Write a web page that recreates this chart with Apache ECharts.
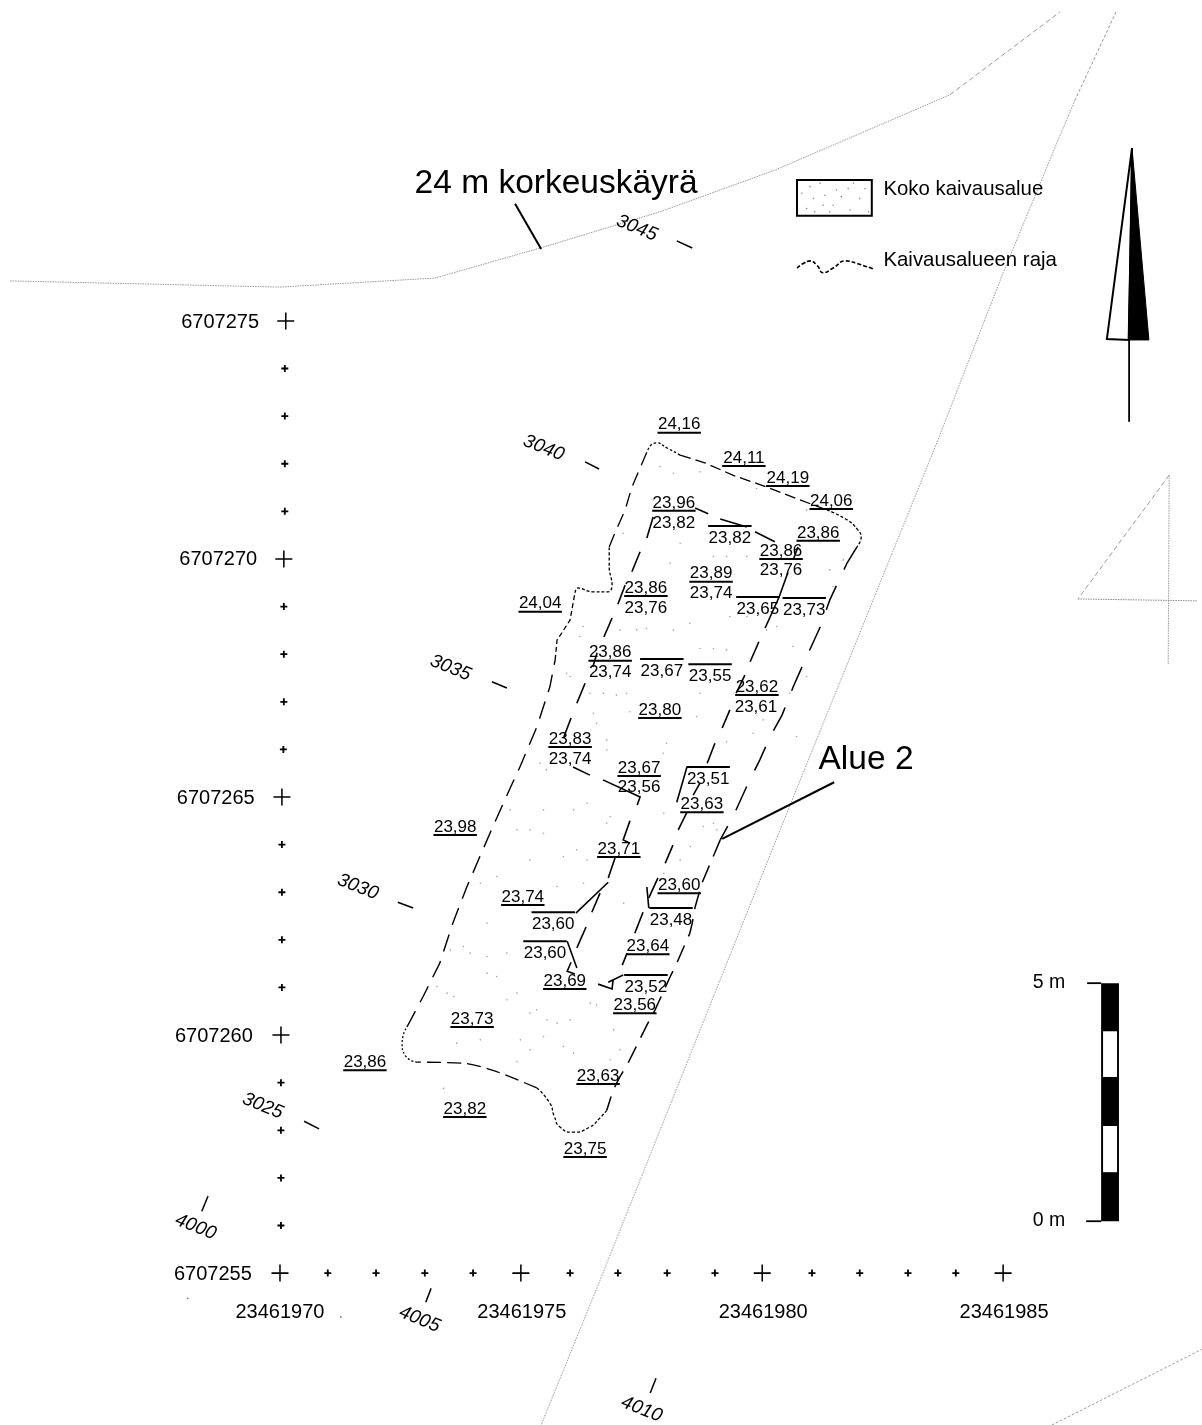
<!DOCTYPE html>
<html><head><meta charset="utf-8">
<style>html,body{margin:0;padding:0;background:#fff}#c{width:1202px;height:1425px}</style>
<script src="https://cdn.jsdelivr.net/npm/echarts@6/dist/echarts.min.js"></script>
</head><body><div id="c"></div>
<script>
// All map positions: metres east of 23461970 / metres north of 6707255.
const northTicks = [[-1.24,19.99,'6707275'],[-1.28,15,'6707270'],[-1.33,10,'6707265'],[-1.37,5,'6707260'],[-1.39,0,'6707255']];
const eastTicks = [[0,-0.80,'23461970'],[5.01,-0.80,'23461975'],[10.01,-0.80,'23461980'],[15,-0.80,'23461985']];
const majorCrosses = [[0.12,20],[0.08,15],[0.04,10],[0.02,5],[0,0],[4.99,0],[9.99,0],[14.98,0]];
const minorCrosses = [[0.10,19],[0.10,18],[0.10,17],[0.10,16],[0.08,14],[0.08,13],[0.08,12],[0.07,11],[0.04,9],[0.04,8],[0.04,7],[0.04,6],[0.02,4],[0.02,3],[0.02,2],[0.02,1],
 [0.99,0],[1.99,0],[3.0,0],[4.0,0],[6.01,0],[7.0,0],[8.02,0],[9.01,0],[11.02,0],[12.01,0],[13.01,0],[14.0,0]];
const levels = [[8.27,17.84,24.16,-1],[9.61,17.14,24.11,-1],[10.52,16.72,24.19,-1],[11.42,16.24,24.06,-1],[8.16,16.20,23.96,-1],[8.16,15.78,23.82,0],[9.32,15.46,23.82,1],[11.15,15.57,23.86,-1],[10.38,15.19,23.86,-1],[10.38,14.79,23.76,0],[8.93,14.71,23.89,-1],[8.93,14.29,23.74,0],[7.58,14.41,23.86,-1],[7.58,13.99,23.76,0],[5.39,14.08,24.04,-1],[9.90,13.97,23.65,1],[10.86,13.95,23.73,1],[6.84,13.05,23.86,-1],[6.84,12.63,23.74,0],[7.91,12.67,23.67,1],[8.91,12.56,23.55,1],[9.88,12.33,23.62,-1],[9.86,11.91,23.61,0],[7.87,11.85,23.80,-1],[6.01,11.24,23.83,-1],[6.01,10.82,23.74,0],[7.44,10.63,23.67,-1],[7.44,10.23,23.56,0],[8.87,10.40,23.51,1],[8.74,9.87,23.63,-1],[3.63,9.39,23.98,-1],[7.02,8.93,23.71,-1],[5.03,7.92,23.74,-1],[5.66,7.35,23.60,1],[8.27,8.17,23.60,-1],[8.10,7.44,23.48,1],[7.62,6.89,23.64,-1],[5.49,6.74,23.60,1],[5.90,6.16,23.69,-1],[7.58,6.03,23.52,1],[7.35,5.65,23.56,-1],[3.98,5.36,23.73,-1],[1.76,4.45,23.86,-1],[6.59,4.16,23.63,-1],[3.83,3.47,23.82,-1],[6.32,2.63,23.75,-1]];
const northLines = [[7.40,21.97,'3045'],[5.47,17.35,'3040'],[3.54,12.73,'3035'],[1.62,8.13,'3030'],[-0.35,3.53,'3025']];
const eastLines = [[-1.74,0.99,'4000'],[2.90,-0.95,'4005'],[7.50,-2.84,'4010']];
const gridTicks = [[[8.22,21.68],[8.54,21.53]],[[6.32,17.04],[6.61,16.89]],[[4.39,12.42],[4.70,12.29]],[[2.44,7.79],[2.76,7.67]],[[0.50,3.19],[0.81,3.03]],
 [[-1.49,1.62],[-1.62,1.30]],[[3.13,-0.32],[3.02,-0.61]],[[7.79,-2.21],[7.67,-2.52]]];
const contour24 = [[-5.59,20.84],[0,20.71],[3.21,20.90],[5.39,21.53],[7.87,22.29],[10.26,23.17],[13.88,24.75]];
const contour24Upper = [[13.88,24.75],[16.16,26.49]];
const road = [[16.47,24.64],[16.12,23.80],[14.98,21.01],[13.63,17.50],[10.36,9.31],[6.63,-0.15],[5.41,-3.19]];
const roadUpper = [[17.32,26.49],[16.47,24.64]];
const cornerRight = [[15.99,-3.19],[19.10,-1.60]];
const sideLines = [[18.42,16.76],[16.53,14.16]];
const sideRule = [[16.53,14.16],[19.00,14.12]];
const sideVertical = [[18.42,16.76],[18.40,12.77]];
const boundaryCornerN = [[7.62,17.29],[7.79,17.44],[8.02,17.33],[8.29,17.18]];
const boundaryTop = [[8.29,17.18],[8.80,17.02],[9.38,16.76],[10.09,16.51],[10.77,16.24],[11.33,16.03]];
const boundaryCornerNE = [[11.33,16.03],[11.75,15.82],[11.97,15.61],[12.04,15.46],[11.95,15.25]];
const boundaryEast = [[11.95,15.25],[11.75,14.92],[11.39,14.14],[11.19,13.57],[10.83,12.77],[10.63,12.31],[10.40,11.72],[10.15,11.26],[9.94,10.78],[9.70,10.29],[9.38,9.58],[9.12,9.10]];
const boundaryEastLow = [[9.12,9.10],[8.74,8.19],[8.60,7.69],[8.54,7.35],[8.49,7.14],[8.22,6.51],[8.08,6.22],[7.77,5.53],[7.60,5.21],[7.21,4.41],[7.04,4.12],[6.90,3.84],[6.77,3.42]];
const boundaryBay = [[6.77,3.42],[6.62,3.25],[6.42,3.07],[6.07,2.96],[5.80,3.07],[5.68,3.30],[5.59,3.57],[5.32,3.89]];
const boundarySouth = [[5.32,3.89],[4.41,4.26],[3.79,4.41],[2.84,4.43]];
const boundaryCornerSW = [[2.84,4.43],[2.59,4.58],[2.53,4.83],[2.63,5.17]];
const boundaryWest = [[2.63,5.17],[2.96,5.80],[3.31,6.51],[3.58,7.35],[3.87,8.11],[4.35,9.24],[4.72,10.08],[4.97,10.63],[5.32,11.47],[5.59,12.31],[5.70,12.88]];
const boundaryStep = [[5.70,12.88],[5.74,13.30],[5.84,13.45],[6.01,13.72],[6.11,14.29]];
const boundaryNotch = [[6.11,14.29],[6.17,14.39],[6.48,14.31],[6.80,14.31],[6.88,14.45],[6.82,14.83],[6.82,15.25]];
const boundaryNW = [[6.82,15.25],[6.94,15.55],[7.15,16.03],[7.29,16.51],[7.46,16.91],[7.62,17.29]];
const trench = [
 [[7.73,15.88],[7.60,15.44]],[[7.46,15.15],[7.29,14.73]],[[7.15,14.45],[7.00,14.05]],[[6.88,13.76],[6.71,13.36]],[[6.57,13.03],[6.48,12.73]],[[6.32,12.39],[6.15,11.97]],[[6.03,11.66],[5.88,11.26]],
 [[6.07,10.63],[6.42,10.46]],[[6.69,10.36],[7.46,10.00],[7.40,9.83]],[[7.25,9.50],[7.11,9.10],[7.25,9.03]],[[6.94,8.72],[6.80,8.30]],[[6.13,7.56],[6.80,8.21]],[[6.63,7.98],[6.46,7.58]],[[6.34,7.27],[6.15,6.83]],
 [[5.95,6.97],[6.15,6.41]],[[6.03,6.53],[5.95,6.34],[6.11,6.28]],[[6.59,6.07],[6.88,5.97],[6.90,6.16]],[[6.80,6.11],[7.11,6.26]],[[7.09,6.47],[7.19,6.72]],[[7.52,7.58],[7.35,7.14]],[[7.60,8.11],[7.64,7.67]],
 [[7.64,7.88],[7.83,8.30]],[[7.98,8.61],[8.14,8.99]],[[8.25,9.31],[8.43,9.68]],[[8.22,9.89],[8.43,10.63]],[[8.56,10.04],[8.70,10.29]],[[8.85,10.71],[9.01,11.13]],[[9.16,11.45],[9.32,11.83]],[[9.45,12.18],[9.63,12.56]],
 [[9.74,12.84],[9.92,13.26]],[[10.05,13.55],[10.34,14.20],[10.52,14.71]],[[10.63,14.98],[10.73,15.25]],[[9.84,15.57],[10.25,15.36]],[[9.12,15.84],[9.67,15.67]],[[8.60,16.07],[8.87,15.95]]];
const leaders = [[[4.87,22.46],[5.41,21.51]],[[11.48,10.31],[9.16,9.12]]];
const stipple = [[7.87,16.94],[8.15,16.80],[8.70,16.83],[9.87,16.48],[10.91,16.03],[7.11,15.54],[8.29,15.33],[8.98,15.05],[9.67,15.05],[8.08,14.91],[11.39,14.77],[11.67,14.98],[6.28,13.58],[7.04,13.51],[7.59,13.54],[8.49,13.65],[9.32,13.79],[10.29,13.58],[10.63,13.16],[8.70,13.12],[9.25,13.09],[5.94,12.60],[6.70,12.18],[7.18,12.18],[6.49,11.76],[8.63,11.69],[10.01,11.62],[6.77,11.20],[9.25,11.16],[10.70,11.27],[5.52,10.57],[7.94,10.92],
 [4.77,9.73],[5.46,9.24],[6.08,9.73],[6.77,9.45],[5.18,9.31],[5.87,8.75],[6.36,8.68],[4.15,8.19],[4.29,7.35],[4.63,7.98],[5.74,8.12],[6.29,8.19],[7.12,7.77],[7.95,8.40],[8.77,9.38],[9.05,9.31],[8.29,8.68],[3.53,6.79],[3.94,6.72],[4.29,6.30],[4.70,6.72],[4.70,5.74],[3.25,6.02],[3.60,5.81],[5.18,5.46],[5.53,5.32],[6.01,5.32],[6.56,5.63],[7.05,4.69],[3.66,4.83],[4.98,4.90],[5.87,4.76],[5.18,4.69],[6.84,4.48],[3.39,3.88],
 [7.73,16.24],[9.25,15.05],[10.01,14.84],[11.46,14.42],[9.67,13.79],[10.08,13.51],[8.98,13.12],[8.15,13.51],[7.39,13.51],[6.21,13.37],[6.01,12.53],[6.42,12.18],[6.97,12.14],[8.70,12.18],[6.56,11.55],[7.25,11.79],[6.77,10.99],[5.39,10.71],[8.01,11.13],[9.80,11.34],[10.56,12.18],[10.91,12.53],
 [4.91,9.31],[5.46,9.73],[6.36,9.87],[6.84,9.59],[4.49,8.33],[5.18,8.68],[6.15,8.89],[7.95,9.66],[8.98,9.45],[8.50,8.96],[3.80,6.86],[4.29,6.65],[4.49,6.23],[3.46,5.88],[4.91,5.88],[5.32,5.53],[5.74,5.25],[6.43,5.67],[4.15,4.90],[5.46,4.97],[6.08,4.62],[6.91,5.11],[4.91,4.44]];
const specks = [[-1.91,-0.53],[1.26,-0.92]];
const legendStipple = [[10.98,22.82],[11.19,22.89],[11.53,22.75],[11.88,22.89],[12.12,22.78],[11.05,22.57],[11.29,22.64],[11.63,22.61],[12.01,22.57],[10.91,22.36],[11.25,22.43],[11.46,22.43],[11.81,22.33],[12.19,22.29],[11.08,22.29],[10.81,22.68],[11.77,22.78],[11.39,22.29]];
const legendBox = [[10.71,22.96],[12.26,22.96],[12.26,22.21],[10.71,22.21]];
const legendSquiggle = [[10.71,21.11],[10.83,21.20],[10.98,21.26],[11.13,21.16],[11.25,21.01],[11.46,21.11],[11.71,21.26],[11.97,21.20],[12.29,21.09]];
const legendTexts = [[12.49,22.79,'Koko kaivausalue'],[12.49,21.30,'Kaivausalueen raja']];
const arrowWhite = [[17.65,23.63],[17.13,19.62],[17.59,19.60]];
const arrowBlack = [[17.65,23.63],[18.00,19.60],[17.57,19.60]];
const arrowStem = [[17.59,19.60],[17.59,17.88]];
const scaleBands = [1.09,2.12,3.09,4.12,5.08,6.09];
const scaleEdges = [17.01,17.38];
const scaleTicks = [[[16.72,6.09],[17.01,6.09]],[[16.70,1.09],[17.01,1.09]]];
const scaleTexts = [[15.93,6.13,'5 m'],[15.93,1.13,'0 m']];
const captions = [[5.72,22.92,'24 m korkeuskäyrä'],[12.14,10.82,'Alue 2']];

const FONT = 'Liberation Sans';
const INK = '#000';
const plus = a => { const h = (100-a)/2, t = h+a; return `path://M${h} 0H${t}V${h}H100V${t}H${t}V100H${h}V${t}H0V${h}H${h}Z`; };
const line = (data, width, color, dash, extra) => Object.assign({
  type:'line', data, showSymbol:false, symbol:'none', silent:true, animation:false, z:3,
  lineStyle:{width, color, type: dash || 'solid', cap:'butt', join:'miter'}
}, extra || {});
const texts = (items, size, extra) => ({
  type:'scatter', silent:true, animation:false, symbolSize:1, z:6,
  itemStyle:{color:'transparent', opacity:1},
  data: items.map(d => ({value:[d[0],d[1]], text:d[2]})),
  label: Object.assign({show:true, position:'inside', color:INK, opacity:1, fontFamily:FONT, fontSize:size, offset:[0,1],
    formatter:p => p.data.text}, extra || {})
});
const dots = (data, size, color, z) => ({type:'scatter',silent:true,animation:false,z,symbol:'circle',symbolSize:size,itemStyle:{color,opacity:1},data});
const polygon = (shapes) => ({
  type:'custom', silent:true, animation:false, z:4, coordinateSystem:'cartesian2d',
  data: shapes.map((s,i)=>[i]),
  renderItem:(params, api) => {
    const s = shapes[params.dataIndex];
    return {type:'polygon', shape:{points:s.pts.map(p=>api.coord(p))},
      style:{fill:s.fill, stroke:s.stroke||null, lineWidth:s.lw||0}};
  }
});
const scaleRects = [];
scaleRects.push({pts:[[scaleEdges[0],scaleBands[0]],[scaleEdges[1],scaleBands[0]],[scaleEdges[1],scaleBands[5]],[scaleEdges[0],scaleBands[5]]],fill:'#000'});
[1,3].forEach(i => scaleRects.push({pts:[[scaleEdges[0]+0.04,scaleBands[i]],[scaleEdges[1]-0.04,scaleBands[i]],[scaleEdges[1]-0.04,scaleBands[i+1]],[scaleEdges[0]+0.04,scaleBands[i+1]]],fill:'#fff'}));

const series = [];
const THIN = '#8c8c8c';
series.push(line(contour24,0.9,THIN,[1.5,1]));
series.push(line(contour24Upper,0.9,THIN,[5,3]));
series.push(line(road,0.9,THIN,[1.5,1.2]));
series.push(line(roadUpper,0.9,THIN,[3,2]));
series.push(line(cornerRight,1,'#999',[2.5,2]));
series.push(line(sideLines,1,'#999',[5,3]));
series.push(line(sideRule,1,'#888',[1.5,1]));
series.push(line(sideVertical,1,'#999',[1.5,1]));
// excavation boundary
series.push(line(boundaryCornerN,1.3,INK,[2.5,2],{smooth:0.6}));
series.push(line(boundaryTop,1.3,INK,[11,5]));
series.push(line(boundaryCornerNE,1.3,INK,[3,2],{smooth:0.5}));
series.push(line(boundaryEast,1.5,INK,[26,18]));
series.push(line(boundaryEastLow,1.5,INK,[18,10]));
series.push(line(boundaryBay,1.3,INK,[3,2],{smooth:0.6}));
series.push(line(boundarySouth,1.3,INK,[14,6],{smooth:0.3}));
series.push(line(boundaryCornerSW,1.3,INK,[2,2],{smooth:0.6}));
series.push(line(boundaryWest,1.4,INK,[18,10]));
series.push(line(boundaryStep,1.3,INK,[5,3]));
series.push(line(boundaryNotch,1.3,INK,[3,2],{smooth:0.4}));
series.push(line(boundaryNW,1.3,INK,[14,8]));
trench.forEach(t => series.push(line(t,1.6,INK)));
gridTicks.forEach(t => series.push(line(t,1.5,INK)));
leaders.forEach(t => series.push(line(t,2,INK)));
// rules beneath or above the level readings
levels.filter(l => l[3] !== 0).forEach(l => {
  const n = l[1] + (l[3] < 0 ? -0.19 : 0.23);
  series.push(line([[l[0]-0.45,n],[l[0]+0.45,n]],2,INK));
});
series.push(dots(stipple,1.6,'#a0a0a0',2));
series.push(dots(specks,1.8,'#777',2));
series.push(polygon([{pts:legendBox,fill:'#fff',stroke:INK,lw:2}]));
series.push(dots(legendStipple,1.6,'#888',5));
series.push(line(legendSquiggle,1.6,INK,[4,2],{smooth:0.5}));
series.push(polygon([{pts:arrowWhite,fill:'#fff',stroke:INK,lw:2},{pts:arrowBlack,fill:'#000',stroke:'#000',lw:1}]));
series.push(line(arrowStem,1.8,INK));
series.push(polygon(scaleRects));
scaleTicks.forEach(t => series.push(line(t,1.8,INK)));
series.push(dots(majorCrosses,17,INK,4)); series[series.length-1].symbol = plus(9);
series.push(dots(minorCrosses,7,INK,4)); series[series.length-1].symbol = plus(26);
series.push(texts(northTicks,20));
series.push(texts(eastTicks,20));
series.push(texts(scaleTexts,19.5));
series.push(texts(captions,33.5,{offset:[0,2]}));
series.push(texts(legendTexts,20.4,{position:'right',distance:0}));
series.push(texts(levels.map(l=>[l[0],l[1],l[2].toFixed(2).replace('.',',')]),17));
series.push(texts(northLines,19,{rotate:-22,fontStyle:'italic'}));
series.push(texts(eastLines,19,{rotate:-22,fontStyle:'italic'}));

const chart = echarts.init(document.getElementById('c'),null,{renderer:'canvas'});
chart.setOption({
  backgroundColor:'#fff', animation:false,
  grid:{left:0,right:0,top:0,bottom:0},
  legend:{show:false}, tooltip:{show:false},
  xAxis:{type:'value',min:-5.80,max:19.10,show:false},
  yAxis:{type:'value',min:-3.19,max:26.74,show:false},
  series
});
</script></body></html>
